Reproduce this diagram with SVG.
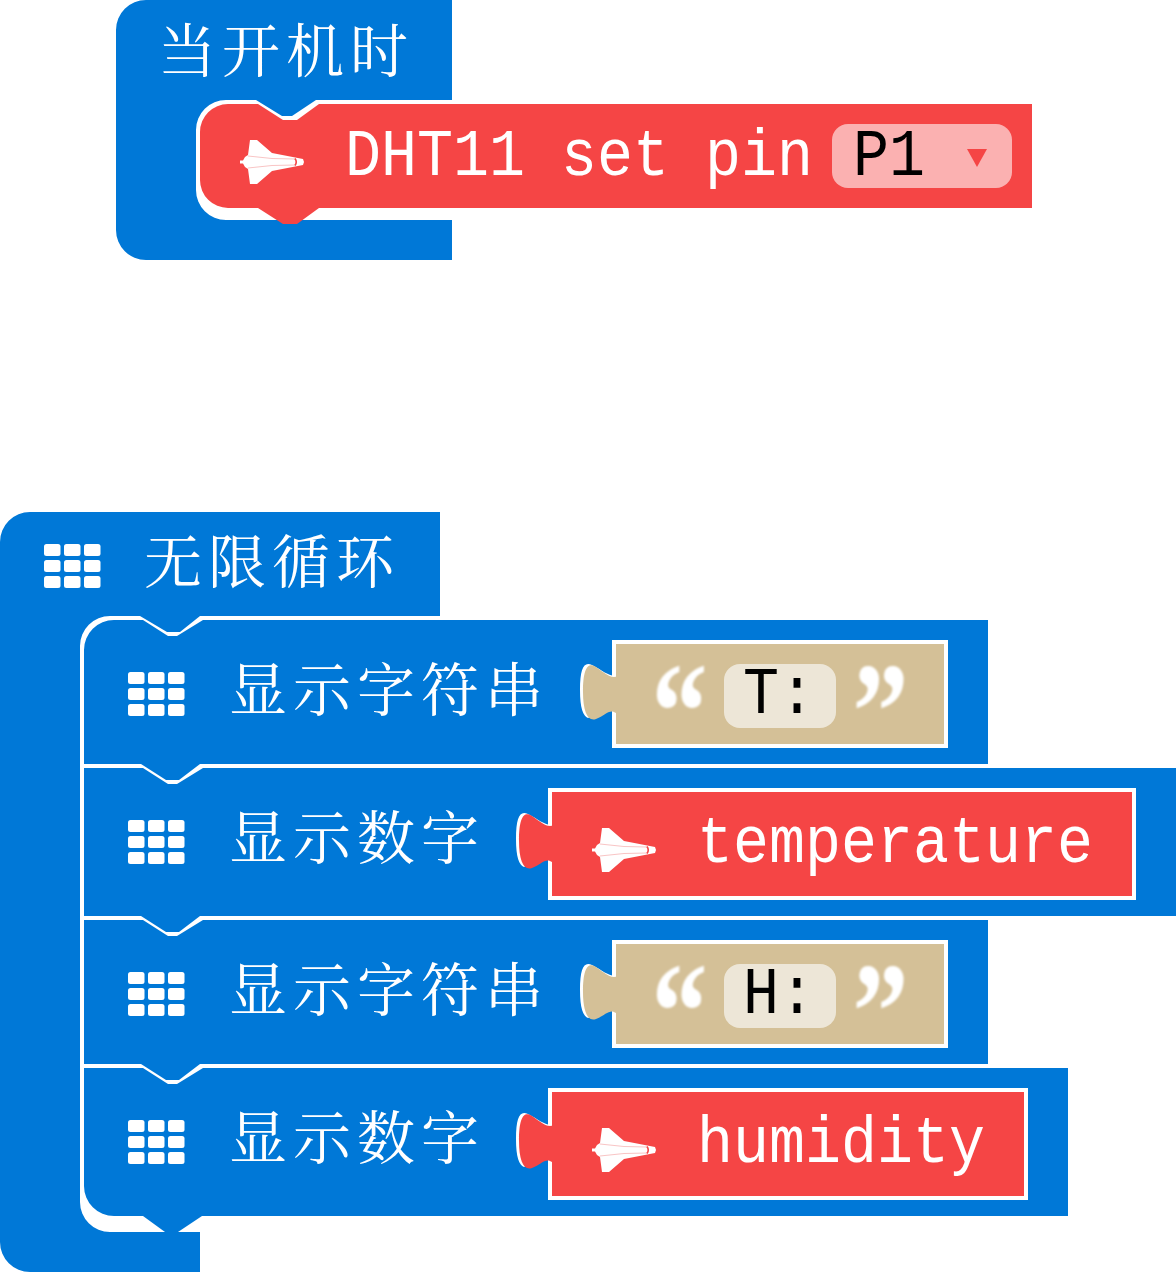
<svg xmlns="http://www.w3.org/2000/svg" width="1176" height="1272" viewBox="0 0 1176 1272">
<style>
.blue{fill:#0078d7}
.red{fill:#f54545}
.tan{fill:#d4c097}
.cn{font-family:"Liberation Serif","Noto Serif CJK SC","Noto Sans CJK SC",serif;font-size:58px;letter-spacing:6px;fill:#fff}
.mono{font-family:"Liberation Mono","DejaVu Sans Mono",monospace;font-size:60px;fill:#fff}
.dark{fill:#000}
.q{font-family:"Liberation Serif",serif;font-weight:bold;font-size:112px;fill:#fff;filter:url(#soft)}
</style>
<defs>
<filter id="soft" x="-20%" y="-20%" width="140%" height="140%"><feGaussianBlur stdDeviation="0.9"/></filter>
<g id="grid" fill="#fff">
<rect x="0" y="0" width="16.5" height="12" rx="2.5"/><rect x="20" y="0" width="16.5" height="12" rx="2.5"/><rect x="40" y="0" width="16.5" height="12" rx="2.5"/>
<rect x="0" y="16" width="16.5" height="12" rx="2.5"/><rect x="20" y="16" width="16.5" height="12" rx="2.5"/><rect x="40" y="16" width="16.5" height="12" rx="2.5"/>
<rect x="0" y="32" width="16.5" height="12" rx="2.5"/><rect x="20" y="32" width="16.5" height="12" rx="2.5"/><rect x="40" y="32" width="16.5" height="12" rx="2.5"/>
</g>
<g id="shuttle">
<path fill="#fff" d="M0,-1.5H3L5,-5L8,-7L10,-22H17L32,-9L63,-3L64,0L63,3L32,9L17,22H10L8,7L5,5L3,1.5H0Z"/>
<path fill="none" stroke="#f9c5c5" stroke-width="1" d="M8,-6L32,-3.5L55,-3M8,6L32,3.5L55,3"/>
<path fill="none" stroke="#f54545" stroke-width="1.6" d="M55,-3.5Q57.5,0 55,3.5"/>
</g>
<path id="tabW" fill="#fff" d="M616,676C608,676 602,670 592,665C584,661 580,668 580,690C580,708 583,716 588,718L612,708Z"/>
<path id="tabT" d="M618,676C611,679 606,674 596,667C588,662 583,668 583,692C583,712 588,722 596,719C604,716 610,708 616,713L618,712Z"/>
</defs>

<g id="connectors"></g>

<g id="on-start">
<path class="blue" d="M146,0H452V100H316L292,116H282L256,100H226A30,30 0 0 0 196,130V190A30,30 0 0 0 226,220H452V260H146A30,30 0 0 1 116,230V30A30,30 0 0 1 146,0Z"/>
<text class="cn" x="158" y="72">当开机时</text>
</g>
<g id="dht-set-pin">
<path class="red" d="M228,104H258L283,120H297L319,104H1032V208H319L297,224H283L258,208H228A28,28 0 0 1 200,180V132A28,28 0 0 1 228,104Z"/>
<use href="#shuttle" x="240" y="162"/>
<text class="mono" transform="translate(345,175) scale(1,1.12)">DHT11 set pin</text>
<rect x="832" y="124" width="180" height="64" rx="16" fill="#fbb1b1"/>
<text class="mono dark" transform="translate(853,175) scale(1,1.12)">P1</text>
<path class="red" d="M967,149H987L977,167Z"/>
</g>

<g id="forever">
<path class="blue" d="M30,512H440V616H200L180,632H167L140,616H110A30,30 0 0 0 80,646V1202A30,30 0 0 0 110,1232H200V1272H30A30,30 0 0 1 0,1242V542A30,30 0 0 1 30,512Z"/>
<use href="#grid" x="44" y="544"/>
<text class="cn" x="144" y="583">无限循环</text>
</g>

<g id="show-string-1">
<path class="blue" d="M114,620H143L168,636H177L203,620H988V764H200L179,780H166L141,764H84V650A30,30 0 0 1 114,620Z"/>
<use href="#grid" x="128" y="672"/>
<text class="cn" x="229" y="711">显示字符串</text>
<rect x="614" y="642" width="332" height="104" class="tan" stroke="#fff" stroke-width="4"/>
<use href="#tabW"/>
<use href="#tabT" class="tan"/>
<text class="q" transform="translate(651.5,759) scale(1,1.25)">“</text>
<rect x="724" y="664" width="112" height="64" rx="16" fill="#ede6d7"/>
<text class="mono dark" transform="translate(743,713) scale(1,1.12)">T:</text>
<text class="q" transform="translate(852.6,759) scale(1,1.25)">”</text>
</g>

<g id="show-number-1">
<path class="blue" d="M84,768H143L168,784H177L203,768H1176V916H200L179,932H166L141,916H84Z"/>
<use href="#grid" x="128" y="820"/>
<text class="cn" x="229" y="859">显示数字</text>
<rect x="550" y="790" width="584" height="108" class="red" stroke="#fff" stroke-width="4"/>
<g transform="translate(-64,149)"><use href="#tabW"/><use href="#tabT" class="red"/></g>
<use href="#shuttle" x="592" y="850"/>
<text class="mono" transform="translate(697,862) scale(1,1.12)">temperature</text>
</g>

<g id="show-string-2">
<path class="blue" d="M84,920H143L168,936H177L203,920H988V1064H200L179,1080H166L141,1064H84Z"/>
<use href="#grid" x="128" y="972"/>
<text class="cn" x="229" y="1011">显示字符串</text>
<rect x="614" y="942" width="332" height="104" class="tan" stroke="#fff" stroke-width="4"/>
<g transform="translate(0,300)"><use href="#tabW"/><use href="#tabT" class="tan"/></g>
<text class="q" transform="translate(651.5,1059) scale(1,1.25)">“</text>
<rect x="724" y="964" width="112" height="64" rx="16" fill="#ede6d7"/>
<text class="mono dark" transform="translate(743,1013) scale(1,1.12)">H:</text>
<text class="q" transform="translate(852.6,1059) scale(1,1.25)">”</text>
</g>

<g id="show-number-2">
<path class="blue" d="M84,1068H143L168,1084H177L203,1068H1068V1216H202L178,1232H165L143,1216H114A30,30 0 0 1 84,1186Z"/>
<use href="#grid" x="128" y="1120"/>
<text class="cn" x="229" y="1159">显示数字</text>
<rect x="550" y="1090" width="476" height="108" class="red" stroke="#fff" stroke-width="4"/>
<g transform="translate(-64,449)"><use href="#tabW"/><use href="#tabT" class="red"/></g>
<use href="#shuttle" x="592" y="1150"/>
<text class="mono" transform="translate(697,1162) scale(1,1.12)">humidity</text>
</g>
</svg>
